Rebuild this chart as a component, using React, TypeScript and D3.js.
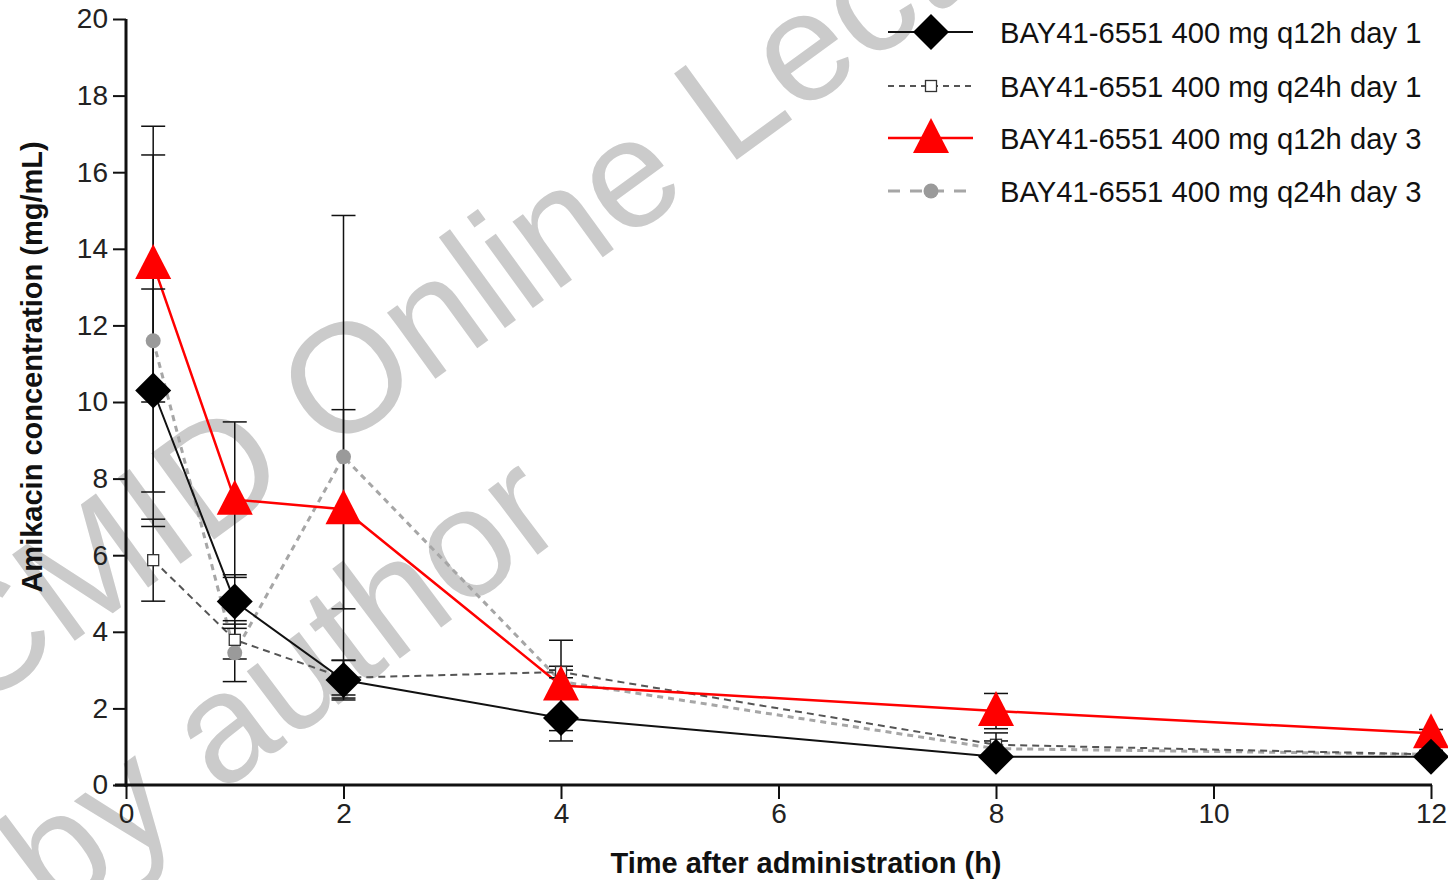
import { useEffect, useRef } from "react";
import * as d3 from "d3";

const W = 1448,
  H = 880;

// sampling times (h)
const times = [0.25, 1, 2, 4, 8, 12];

// mean concentration and SD per series
const q12hDay1 = [10.3, 4.79, 2.74, 1.75, 0.74, 0.74];
const q12hDay1Sd = [2.65, 0.7, 0.52, 0.6, 0.12, 0.1];
const q24hDay1 = [5.87, 3.79, 2.8, 2.95, 1.05, 0.8];
const q24hDay1Sd = [1.07, 0.5, 0.45, 0.15, 0.31, 0.1];
const q12hDay3 = [13.6, 7.45, 7.2, 2.6, 1.93, 1.35];
const q12hDay3Sd = [3.6, 2.03, 2.6, 1.18, 0.46, 0.1];
const q24hDay3 = [11.6, 3.45, 8.57, 2.7, 0.95, 0.8];
const q24hDay3Sd = [4.85, 0.75, 6.3, 0.3, 0.2, 0.1];

const seriesNames = [
  "BAY41-6551 400 mg q12h day 1",
  "BAY41-6551 400 mg q24h day 1",
  "BAY41-6551 400 mg q12h day 3",
  "BAY41-6551 400 mg q24h day 3",
];

const xTicks = [0, 2, 4, 6, 8, 10, 12];
const yTicks = [0, 2, 4, 6, 8, 10, 12, 14, 16, 18, 20];

const FONT = "'Liberation Sans', Arial, Helvetica, sans-serif";

type Series = {
  name: string;
  values: number[];
  sd: number[];
  color: string;
  width: number;
  dash: string | null;
  legendDash: string | null;
  marker: "diamond" | "square" | "triangle" | "circle";
};

const series: Series[] = [
  { name: seriesNames[0], values: q12hDay1, sd: q12hDay1Sd, color: "#111", width: 2, dash: null, legendDash: null, marker: "diamond" },
  { name: seriesNames[1], values: q24hDay1, sd: q24hDay1Sd, color: "#555", width: 2, dash: "7,5", legendDash: "6,5", marker: "square" },
  { name: seriesNames[2], values: q12hDay3, sd: q12hDay3Sd, color: "#f00", width: 2.5, dash: null, legendDash: null, marker: "triangle" },
  { name: seriesNames[3], values: q24hDay3, sd: q24hDay3Sd, color: "#a6a6a6", width: 3, dash: "6,5", legendDash: "12,10", marker: "circle" },
];

function drawMarker(g: any, kind: string, cx: number, cy: number) {
  if (kind === "diamond") {
    g.append("path")
      .attr("d", `M${cx},${cy - 18} L${cx + 18},${cy} L${cx},${cy + 18} L${cx - 18},${cy} Z`)
      .attr("fill", "#000");
  } else if (kind === "triangle") {
    g.append("path")
      .attr("d", `M${cx},${cy - 20} L${cx + 18},${cy + 15} L${cx - 18},${cy + 15} Z`)
      .attr("fill", "#f00");
  } else if (kind === "square") {
    g.append("rect")
      .attr("x", cx - 5.5)
      .attr("y", cy - 5.5)
      .attr("width", 11)
      .attr("height", 11)
      .attr("fill", "#fff")
      .attr("stroke", "#333")
      .attr("stroke-width", 1.3);
  } else {
    g.append("circle").attr("cx", cx).attr("cy", cy).attr("r", 7.5).attr("fill", "#9a9a9a");
  }
}

function PkChart() {
  const svgRef = useRef(null);

  const buildSVG = () => {
    const svg = d3.select(svgRef.current);
    svg.selectAll("*").remove();

    const x = d3.scaleLinear().domain([0, 12]).range([126, 1431]);
    const y = d3.scaleLinear().domain([0, 20]).range([785, 19]);

    // watermark
    const wm = svg.append("g").attr("fill", "#cbcbcb").style("font-family", FONT).style("font-size", "155px");
    wm.append("text").attr("transform", "translate(-26,714) rotate(-36)").text("CMID Online Lecture");
    wm.append("text").attr("transform", "translate(54,919) rotate(-37)").text("by author");

    // y axis
    const yAxis = d3.axisLeft(y).tickValues(yTicks).tickSize(13).tickPadding(5);
    const gy = svg.append("g").attr("transform", "translate(126,0)").call(yAxis);
    gy.select(".domain").remove();
    gy.selectAll("line").attr("stroke", "#111").attr("stroke-width", 2);
    gy.selectAll("text").style("font-family", FONT).style("font-size", "28px").attr("fill", "#222");

    // x axis
    const xAxis = d3.axisBottom(x).tickValues(xTicks).tickSize(14).tickPadding(4);
    const gx = svg.append("g").attr("transform", "translate(0,785)").call(xAxis);
    gx.select(".domain").remove();
    gx.selectAll("line").attr("stroke", "#111").attr("stroke-width", 2);
    gx.selectAll("text").style("font-family", FONT).style("font-size", "28px").attr("fill", "#222");

    svg.append("line").attr("x1", 126).attr("x2", 126).attr("y1", y(20)).attr("y2", y(0) + 2).attr("stroke", "#111").attr("stroke-width", 3);
    svg.append("line").attr("x1", 115).attr("x2", x(12) + 1).attr("y1", y(0)).attr("y2", y(0)).attr("stroke", "#111").attr("stroke-width", 3);

    // axis titles
    svg.append("text")
      .attr("transform", `translate(42,${(y(0) + y(20)) / 2 - 35}) rotate(-90)`)
      .attr("text-anchor", "middle")
      .style("font-family", FONT)
      .style("font-size", "29px")
      .style("font-weight", "bold")
      .attr("fill", "#111")
      .text("Amikacin concentration (mg/mL)");
    svg.append("text")
      .attr("x", 806)
      .attr("y", 873)
      .attr("text-anchor", "middle")
      .style("font-family", FONT)
      .style("font-size", "29px")
      .style("font-weight", "bold")
      .attr("fill", "#111")
      .text("Time after administration (h)");

    // lines, drawn back to front
    const line = d3.line<number>().x((d, i) => x(times[i])).y((d) => y(d));
    [3, 1, 0, 2].forEach((k) => {
      const s = series[k];
      svg.append("path")
        .datum(s.values)
        .attr("d", line)
        .attr("fill", "none")
        .attr("stroke", s.color)
        .attr("stroke-width", s.width)
        .attr("stroke-dasharray", s.dash);
    });

    // error bars
    const eb = svg.append("g").attr("stroke", "#111").attr("stroke-width", 1.5);
    series.forEach((s) => {
      s.values.forEach((v, i) => {
        const cx = x(times[i]);
        const hi = y(v + s.sd[i]);
        const lo = y(v - s.sd[i]);
        eb.append("line").attr("x1", cx).attr("x2", cx).attr("y1", hi).attr("y2", lo);
        eb.append("line").attr("x1", cx - 12).attr("x2", cx + 12).attr("y1", hi).attr("y2", hi);
        eb.append("line").attr("x1", cx - 12).attr("x2", cx + 12).attr("y1", lo).attr("y2", lo);
      });
    });

    // markers
    const mk = svg.append("g");
    [3, 1, 2, 0].forEach((k) => {
      const s = series[k];
      s.values.forEach((v, i) => drawMarker(mk, s.marker, x(times[i]), y(v)));
    });

    // legend
    const rowY = [32, 86, 138, 191];
    const lg = svg.append("g");
    series.forEach((s, i) => {
      const ly = rowY[i];
      lg.append("line")
        .attr("x1", 888)
        .attr("x2", 973)
        .attr("y1", ly)
        .attr("y2", ly)
        .attr("stroke", s.color)
        .attr("stroke-width", s.width)
        .attr("stroke-dasharray", s.legendDash);
      drawMarker(lg, s.marker, 931, ly);
      lg.append("text")
        .attr("x", 1000)
        .attr("y", ly)
        .attr("dy", "0.36em")
        .style("font-family", FONT)
        .style("font-size", "29.2px")
        .attr("fill", "#111")
        .text(s.name);
    });
  };

  useEffect(buildSVG, []);

  return (
    <svg
      ref={svgRef}
      width={W}
      height={H}
      style={{ position: "absolute", left: 0, top: 0, background: "#fff" }}
    ></svg>
  );
}

export default function App() {
  return <PkChart />;
}
